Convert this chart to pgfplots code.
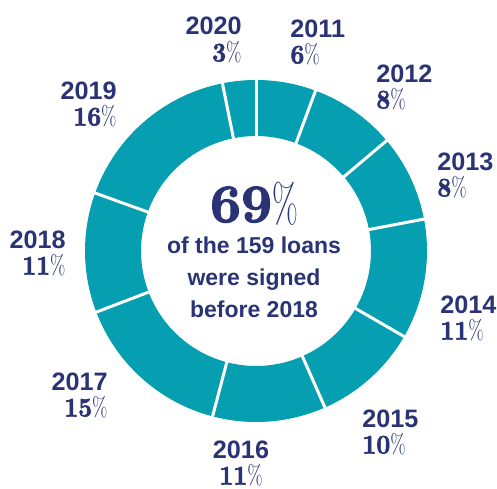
\documentclass[border=0pt]{standalone}
\usepackage{pgfplots}
\pgfplotsset{compat=1.18}
\usepackage{pgfplotstable}
\usepackage{graphicx}
\usepackage{fontspec}
\setmainfont{Liberation Sans}
\newfontfamily\lmr{Latin Modern Roman}
\newfontfamily\lmrb[Extension=.otf,FakeBold=2.2]{lmroman10-bold}
\definecolor{teal1}{HTML}{069FB1}
\definecolor{navy}{HTML}{2A3474}

% year, estimated number of loans (of 159), label percentage, label position (px), label side
\pgfplotstableread{
year n pct lx ly side
2011 9 6 290 451 west
2012 13 8 376 406 west
2013 13 8 437 318 west
2014 18 11 440 175 west
2015 16 10 362 61 west
2016 17 11 241 30 mid
2017 24 15 108 98 east
2018 18 11 66 240 east
2019 26 16 117 389 east
2020 5 3 242 453 east
}\loans

\def\Ro{85.5pt}
\def\Ri{57.5pt}
\newcommand{\pctfmt}[1]{{\fontsize{13.5}{13.5}\selectfont\lmrb\scalebox{0.9}[1]{#1}\lmr\scalebox{0.7}[1]{\%}}}

\begin{document}
\begin{tikzpicture}
\begin{axis}[name=ax, x=0.5pt, y=0.5pt, xmin=0, xmax=497, ymin=0, ymax=488,
  hide axis, clip=false]
\pgfplotsextra{%
  \coordinate (c) at (axis cs:256,237);
  \def\tot{0}%
  \pgfplotsforeachungrouped \i in {0,...,9}{%
    \pgfplotstablegetelem{\i}{n}\of{\loans}%
    \pgfmathsetmacro\tot{\tot+\pgfplotsretval}}%
  % segments and labels
  \def\cum{0}%
  \def\w{west}\def\e{east}%
  \pgfplotsforeachungrouped \i in {0,...,9}{%
    \pgfplotstablegetelem{\i}{n}\of{\loans}\let\n\pgfplotsretval
    \pgfmathsetmacro\sa{90-\cum/\tot*360}%
    \pgfmathsetmacro\cum{\cum+\n}%
    \pgfmathsetmacro\ea{90-\cum/\tot*360}%
    \fill[teal1] ([shift={(\sa:\Ro)}]c) arc[start angle=\sa,end angle=\ea,radius=\Ro]
       -- ([shift={(\ea:\Ri)}]c) arc[start angle=\ea,end angle=\sa,radius=\Ri] -- cycle;
    \pgfplotstablegetelem{\i}{year}\of{\loans}\let\yr\pgfplotsretval
    \pgfplotstablegetelem{\i}{pct}\of{\loans}\let\pc\pgfplotsretval
    \pgfplotstablegetelem{\i}{lx}\of{\loans}\let\lx\pgfplotsretval
    \pgfplotstablegetelem{\i}{ly}\of{\loans}\let\ly\pgfplotsretval
    \pgfplotstablegetelem{\i}{side}\of{\loans}\edef\side{\pgfplotsretval}%
    \ifx\side\w \def\anc{base west}\else\ifx\side\e \def\anc{base east}\else\def\anc{base}\fi\fi
    \pgfmathsetmacro\lyb{\ly-26.5}%
    \node[anchor=\anc, inner sep=0pt, text=navy, font=\bfseries\fontsize{12.6}{12.6}\selectfont]
       at (axis cs:\lx,\ly) {\yr};
    \node[anchor=\anc, inner sep=0pt, text=navy] at (axis cs:\lx,\lyb) {\pctfmt{\pc}};
  }%
  % white separators
  \def\cum{0}%
  \pgfplotsforeachungrouped \i in {0,...,9}{%
    \pgfplotstablegetelem{\i}{n}\of{\loans}%
    \pgfmathsetmacro\cum{\cum+\pgfplotsretval}%
    \pgfmathsetmacro\ea{90-\cum/\tot*360}%
    \draw[white, line width=1.5pt] ([shift={(\ea:\Ri-1pt)}]c) -- ([shift={(\ea:\Ro+1pt)}]c);
  }%
  % centre text
  \node[anchor=base, inner sep=0pt, text=navy, font=\fontsize{27}{27}\selectfont]
     at (axis cs:254,266) {\lmrb 69\lmr\scalebox{0.62}[1]{\%}};
  \node[anchor=base, inner sep=0pt, text=navy, font=\bfseries\fontsize{11.5}{11.5}\selectfont]
     at (axis cs:254,235) {of the 159 loans};
  \node[anchor=base, inner sep=0pt, text=navy, font=\bfseries\fontsize{11.5}{11.5}\selectfont]
     at (axis cs:254,203) {were signed};
  \node[anchor=base, inner sep=0pt, text=navy, font=\bfseries\fontsize{11.5}{11.5}\selectfont]
     at (axis cs:254,171) {before 2018};
}
\end{axis}
\pgfresetboundingbox
\useasboundingbox (ax.south west) rectangle (ax.north east);
\end{tikzpicture}
\end{document}
